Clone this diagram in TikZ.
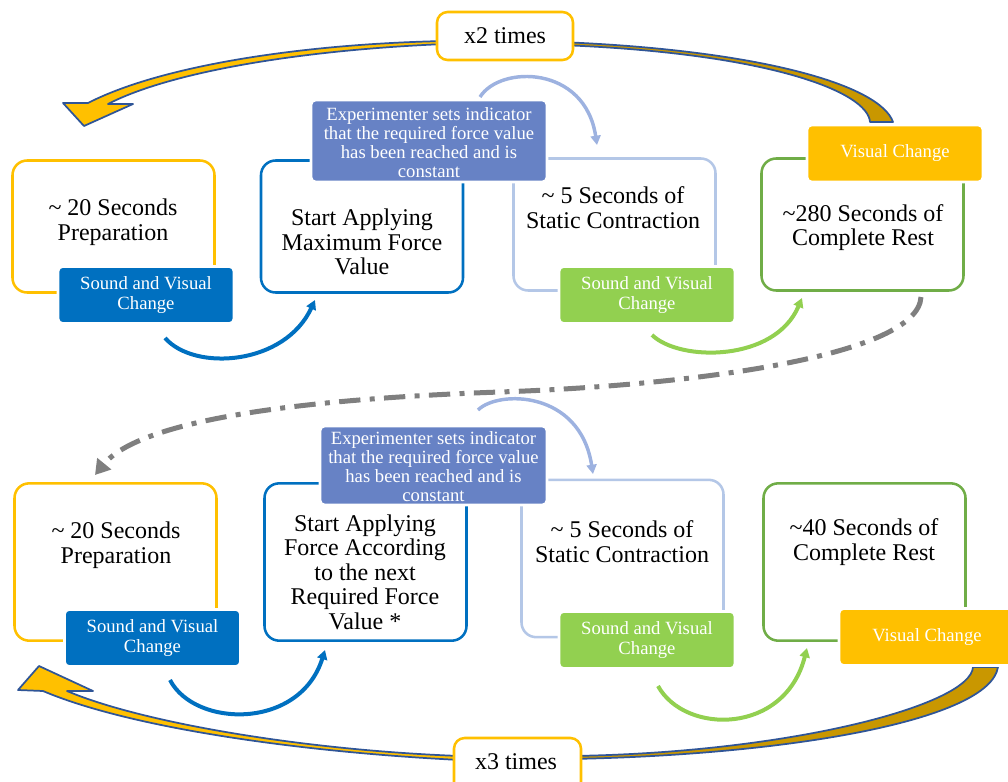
\documentclass[tikz,border=0pt]{standalone}
\usepackage{fontspec}
\setmainfont{Liberation Serif}
\usetikzlibrary{arrows.meta}
\definecolor{amber}{HTML}{FFC000}
\definecolor{darkamber}{HTML}{C99700}
\definecolor{ocean}{HTML}{0070C0}
\definecolor{periwinkle}{HTML}{6782C5}
\definecolor{paleblue}{HTML}{B4C7E7}
\definecolor{arcblue}{HTML}{9DB2E0}
\definecolor{sprout}{HTML}{92D050}
\definecolor{leaf}{HTML}{70AD47}
\definecolor{navy}{HTML}{2F5597}
\definecolor{slate}{HTML}{7F7F7F}
\newcommand{\bodytxt}{\fontsize{18}{18.4}\selectfont}
\newcommand{\tagtxt}{\fontsize{14}{14.4}\selectfont}
\begin{document}
\begin{tikzpicture}[x=0.75pt,y=-0.75pt,
  box/.style={draw, fill=white, line width=1.9pt, rounded corners=11pt,
    minimum width=151.5pt, inner sep=0pt},
  tag/.style={draw=white, line width=2pt, rounded corners=3.5pt, text=white,
    font=\tagtxt, align=center, inner sep=0pt,
    minimum width=132pt, minimum height=42.75pt},
  note/.style={draw=white, line width=2pt, rounded corners=3.5pt,
    fill=periwinkle, inner sep=0pt},
  notetext/.style={text=white, font=\tagtxt, align=center, inner sep=0pt},
  body/.style={font=\bodytxt, align=center, inner sep=0pt},
  flow/.style={line width=3pt, -{Triangle[length=7pt,width=7.5pt]}},
  bigarrow/.style={draw=navy, line width=1.3pt, line join=round},
  timesbox/.style={draw=amber, fill=white, line width=1.9pt,
    rounded corners=8pt, font=\bodytxt, inner sep=0pt},
  loopback/.style={draw=slate, line width=3.75pt,
    dash pattern=on 16pt off 7pt on 3.75pt off 7pt,
    -{Triangle[length=11pt,width=13pt]}},
]
\useasboundingbox (0,0) rectangle (1008,782);

% repeat arrow of the first cycle (far side, then front side with head)
\path[bigarrow, fill=darkamber] (560,42) .. controls (760,50) and (880,85) .. (893,122)
  -- (870,122) .. controls (868,92) and (770,53) .. (560,45) -- cycle;
\path[bigarrow, fill=amber] (445,41) .. controls (300,44) and (160,66) .. (88,103)
  -- (63,103) -- (84,126) -- (133,104) -- (108,104)
  .. controls (170,72) and (300,50) .. (445,44) -- cycle;

% repeat arrow of the second cycle
\path[bigarrow, fill=darkamber] (570,759) .. controls (790,755) and (990,720) .. (998,667)
  -- (973,667) .. controls (971,705) and (790,753) .. (570,756) -- cycle;
\path[bigarrow, fill=amber] (460,760) .. controls (300,752) and (130,728) .. (43,691)
  -- (18,690) -- (39,666) -- (93,691) -- (67,691)
  .. controls (140,722) and (300,750) .. (460,756) -- cycle;

% repetition counters
\node[timesbox, minimum width=102pt, minimum height=36pt] (x2) at (505,36) {x2 times};
\node[timesbox, minimum width=95.25pt, minimum height=45pt] (x3) at (517.5,768) {};
\node[font=\bodytxt, inner sep=0pt] (x3t) at (516,762) {x3 times};

% transition from the first cycle to the second
\coordinate (dstart) at (921,297);
\coordinate (dend) at (95,475);
\draw[loopback] (dstart) .. controls (918,355) and (700,385) .. (500,392)
  .. controls (300,399) and (140,420) .. (dend);

% first cycle: step boxes
\node[box, draw=amber, minimum height=99pt] (A1) at (113.5,226.5) {};
\node[box, draw=ocean, minimum height=99pt] (B1) at (362,226.5) {};
\node[box, draw=paleblue, minimum height=99pt] (C1) at (614.5,224.5) {};
\node[box, draw=leaf, minimum height=99pt] (D1) at (862.5,224.5) {};

% second cycle: step boxes
\node[box, draw=amber, minimum height=118pt] (A2) at (115.5,562) {};
\node[box, draw=ocean, minimum height=118pt] (B2) at (365.5,562) {};
\node[box, draw=paleblue, minimum height=118pt] (C2) at (622.5,558.5) {};
\node[box, draw=leaf, minimum height=118pt] (D2) at (864.5,562) {};

% cue tags
\node[tag, fill=ocean] (L1) at (146,295) {Sound and Visual\\Change};
\node[tag, fill=sprout] (G1) at (647,295) {Sound and Visual\\Change};
\node[tag, fill=amber] (V1) at (895,153.5) {Visual Change};
\node[tag, fill=ocean] (L2) at (152.5,638) {Sound and Visual\\Change};
\node[tag, fill=sprout] (G2) at (647,640) {Sound and Visual\\Change};
\node[tag, fill=amber] (V2) at (927,637) {Visual Change};

% experimenter notes
\node[note, minimum width=177pt, minimum height=61.5pt] (E1) at (429,141) {};
\node[notetext] (E1t) at (429,142.5) {Experimenter sets indicator\\that the required force value\\has been reached and is\\constant};
\node[note, minimum width=170.25pt, minimum height=59.25pt] (E2) at (433.5,465.5) {};
\begin{scope}
  \clip (E2.north west) rectangle (E2.south east);
  \node[notetext, anchor=north] (E2t) at (433.5,431) {Experimenter sets indicator\\that the required force value\\has been reached and is\\constant};
\end{scope}

% step-to-step arcs
\coordinate (f1s) at (165,338);  \coordinate (f1e) at (315,300);
\coordinate (f2s) at (652,335);  \coordinate (f2e) at (802,298);
\coordinate (f3s) at (480,97);   \coordinate (f3e) at (597,145);
\coordinate (f4s) at (170,680);  \coordinate (f4e) at (325,650);
\coordinate (f5s) at (658,686);  \coordinate (f5e) at (807,648);
\coordinate (f6s) at (478,410);  \coordinate (f6e) at (593,474);
\draw[flow, ocean] (f1s) .. controls (195,372) and (285,365) .. (f1e);
\draw[flow, sprout] (f2s) .. controls (680,362) and (775,362) .. (f2e);
\draw[flow, arcblue, line width=2.6pt] (f3s) .. controls (500,65) and (585,65) .. (f3e);
\draw[flow, ocean] (f4s) .. controls (195,728) and (300,730) .. (f4e);
\draw[flow, sprout] (f5s) .. controls (685,735) and (785,735) .. (f5e);
\draw[flow, arcblue, line width=2.6pt] (f6s) .. controls (498,390) and (580,390) .. (f6e);

% step texts
\node[body] (A1t) at (113,222) {\textasciitilde{} 20 Seconds\\Preparation};
\node[body] (B1t) at (362,242) {Start Applying\\Maximum Force\\Value};
\node[body] (C1t) at (613,207.5) {\textasciitilde{} 5 Seconds of\\Static Contraction};
\node[body] (D1t) at (863,227.5) {\textasciitilde{}280 Seconds of\\Complete Rest};
\node[body] (A2t) at (116,545) {\textasciitilde{} 20 Seconds\\Preparation};
\node[body] (B2t) at (365,572) {Start Applying\\Force According\\to the next\\Required Force\\Value *};
\node[body] (C2t) at (622,541.5) {\textasciitilde{} 5 Seconds of\\Static Contraction};
\node[body] (D2t) at (864,542) {\textasciitilde{}40 Seconds of\\Complete Rest};
\end{tikzpicture}
\end{document}
